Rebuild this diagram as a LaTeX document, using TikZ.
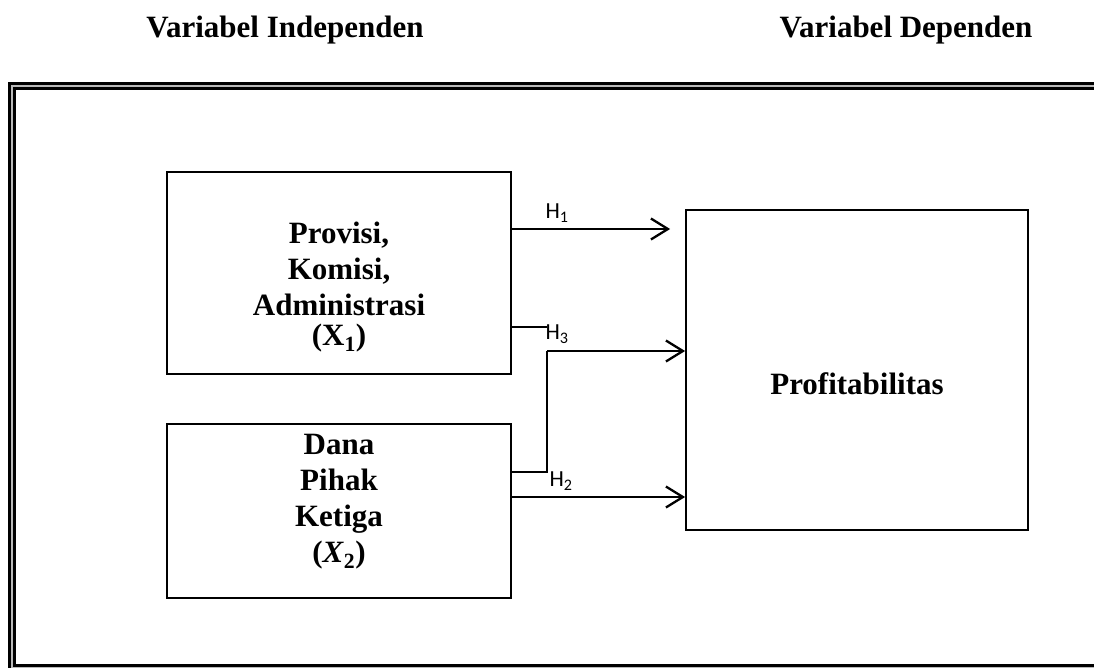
\documentclass[tikz,border=0pt]{standalone}
\usepackage{amsmath}
\usepackage{fontspec}
\setmainfont{Liberation Serif}
\newfontfamily\hfont{Carlito}
\usetikzlibrary{arrows.meta}

\begin{document}
\begin{tikzpicture}[x=1pt,y=-1pt,
    box/.style={draw,line width=2.3pt,inner sep=0pt},
    txt/.style={align=center,font=\bfseries\fontsize{31}{36}\selectfont},
    link/.style={line width=2.3pt},
    arr/.style={link,-{Straight Barb[length=17pt,width=21pt]}},
    hlab/.style={font=\hfont\fontsize{23}{26}\selectfont,inner sep=0pt},
    frame/.style={line width=2.8pt,double=gray!55,double distance=1.8pt}]
    \useasboundingbox (0,0) rectangle (1094,667);
    \clip (0,0) rectangle (1094,667);

    \node[txt,anchor=base] (ind) at (285,37) {Variabel Independen};
    \node[txt,anchor=base] (dep) at (906,37) {Variabel Dependen};

    \draw[frame] (1110,86) -- (12,86) -- (12,668) -- (1110,668);

    \node[box,minimum width=344pt,minimum height=202pt] (prov) at (339,273) {};
    \node[box,minimum width=344pt,minimum height=174pt] (dpk) at (339,511) {};
    \node[box,line width=1.8pt,minimum width=342pt,minimum height=320pt] (prof) at (857,370) {};

    \node[txt] (provtxt) at (339,287) {Provisi,\\ Komisi,\\ Administrasi\\[-6pt] ($\mathbf{X}_{\mathbf{1}}$)};
    \node[txt] (dpktxt) at (339,502) {Dana\\ Pihak\\ Ketiga\\ (\textit{X}\textsubscript{2})};
    \node[txt] (proftxt) at (857,384) {Profitabilitas};

    \coordinate (h3j) at (547,351);
    \coordinate (h2j) at (547,472);

    \draw[arr,shorten >=15pt] ([yshift=44pt]prov.east) -- (prof.west |- 0,229);
    \draw[link] ([yshift=-54pt]prov.east) -- (h3j |- 0,327);
    \draw[link] ([yshift=39pt]dpk.east) -- (h2j) -- (h3j);
    \draw[arr] (h3j) -- (prof.west |- h3j);
    \draw[arr] ([yshift=14pt]dpk.east) -- (prof.west |- 0,497);

    \node[hlab] (h1) at (557,213) {H\textsubscript{1}};
    \node[hlab] (h3) at (557,334) {H\textsubscript{3}};
    \node[hlab] (h2) at (561,481) {H\textsubscript{2}};
\end{tikzpicture}
\end{document}
